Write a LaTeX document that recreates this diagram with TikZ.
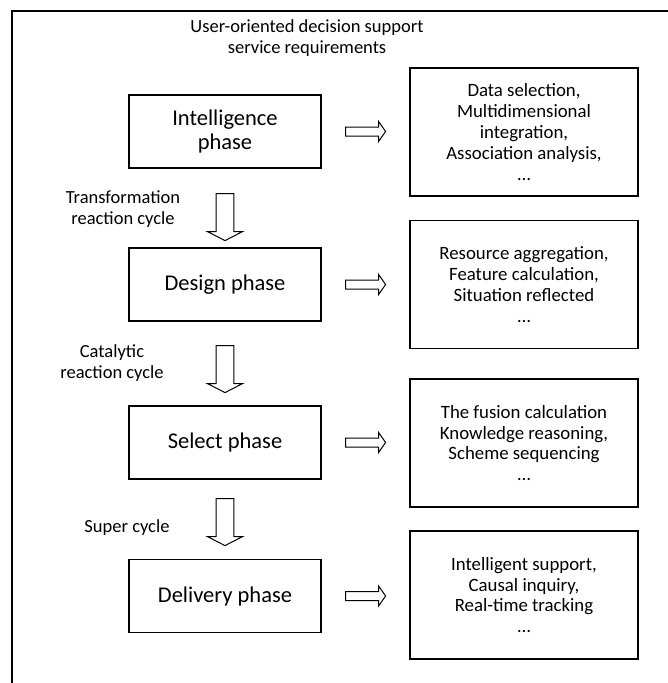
\documentclass[tikz,border=0pt]{standalone}
\usepackage{fontspec}
\setmainfont{Carlito}
\usetikzlibrary{calc}
\tikzset{
  phasebox/.style={draw, line width=1.2pt, minimum width=192pt, minimum height=73pt,
    align=center, font=\fontsize{22.5}{23.5}\selectfont, inner sep=0pt},
  taskbox/.style={draw, line width=1.2pt, minimum width=228pt, minimum height=128pt,
    align=center, font=\fontsize{18.8}{20.8}\selectfont, inner sep=0pt},
  cyclelabel/.style={align=center, font=\fontsize{18.5}{21}\selectfont, inner sep=0pt},
  blockline/.style={draw, line width=1pt, line join=miter, fill=white},
  % hollow block arrow pointing down, drawn from its tail centre
  pics/downarrow/.style={code={
    \path[blockline] (-8.8,0) -- (-8.8,38) -- (-17.5,38) -- (0,47) -- (17.5,38)
      -- (8.8,38) -- (8.8,0) -- cycle;}},
  % hollow block arrow pointing right, drawn from its tail centre
  pics/rightarrow/.style={code={
    \path[blockline] (0,-4.5) -- (33,-4.5) -- (33,-10) -- (40,0) -- (33,10)
      -- (33,4.5) -- (0,4.5) -- cycle;}},
}
\begin{document}
\begin{tikzpicture}[x=1pt,y=-1pt]
\useasboundingbox (0,0) rectangle (668,683);

% outer frame (top and left edges)
\draw[line width=1.5pt] (12,683) -- (12,11) -- (668,11);

\node[cyclelabel] (title) at (307,38) {User-oriented decision support\\service requirements};

% phases
\node[phasebox] (intel)  at (225,131.5) {Intelligence\\phase};
\node[phasebox] (design) at (225,284.5) {Design phase};
\node[phasebox] (select) at (225,442.5) {Select phase};
\node[phasebox] (deliv)  at (225,596)   {Delivery phase};

% tasks of each phase
\node[taskbox] (t1) at (524,132) {Data selection,\\Multidimensional\\integration,\\Association analysis,\\…};
\node[taskbox] (t2) at (524,284.5) {Resource aggregation,\\Feature calculation,\\Situation reflected\\…};
\node[taskbox] (t3) at (524,443) {The fusion calculation\\Knowledge reasoning,\\Scheme sequencing\\…};
\node[taskbox] (t4) at (524,595) {Intelligent support,\\Causal inquiry,\\Real-time tracking\\…};

% cycles between phases
\path (intel.south)  ++(0,25) pic {downarrow};
\path (design.south) ++(0,24) pic {downarrow};
\path (select.south) ++(0,19) pic {downarrow};

\node[cyclelabel] (c1) at (123,209.5) {Transformation\\reaction cycle};
\node[cyclelabel] (c2) at (112,363.5) {Catalytic\\reaction cycle};
\node[cyclelabel] (c3) at (127,528) {Super cycle};

% phase to task arrows
\path (intel.east)  ++(24,0) pic {rightarrow};
\path (design.east) ++(24,0) pic {rightarrow};
\path (select.east) ++(24,0) pic {rightarrow};
\path (deliv.east)  ++(24,0) pic {rightarrow};
\end{tikzpicture}
\end{document}
